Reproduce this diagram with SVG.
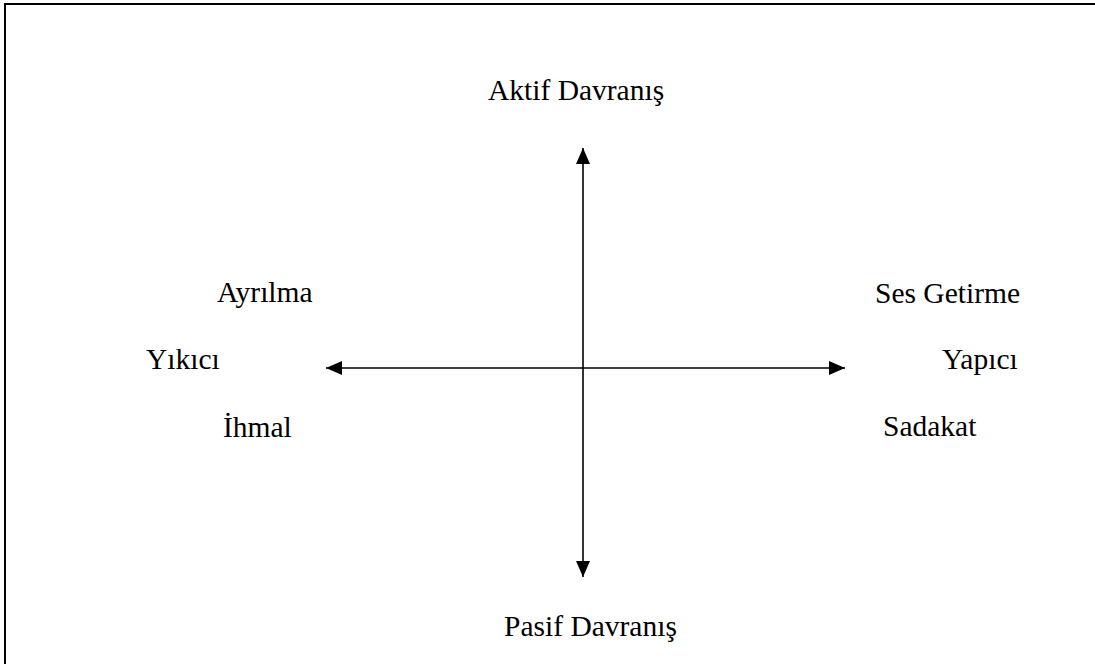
<svg xmlns="http://www.w3.org/2000/svg" width="1095" height="664" viewBox="0 0 1095 664">
  <style>
    .lbl { font-family: 'Liberation Serif', 'Times New Roman', Times, serif; font-size: 29.5px; fill: #000; }
    .axis { stroke: #000; stroke-width: 1.6; fill: none; }
  </style>
  <defs>
    <marker id="head" viewBox="0 0 16 14" refX="16" refY="7" markerWidth="16" markerHeight="14" markerUnits="userSpaceOnUse" orient="auto-start-reverse">
      <path d="M0,0 L16,7 L0,14 Z" fill="#000"/>
    </marker>
  </defs>
  <rect width="1095" height="664" fill="#fff"/>
  <!-- frame: only top and left edges fall inside the canvas -->
  <path d="M5,700 L5,4 L1100,4" stroke="#000" stroke-width="2" fill="none"/>

  <g id="connectors">
    <line class="axis" x1="583" y1="577" x2="583" y2="148" marker-start="url(#head)" marker-end="url(#head)"/>
    <line class="axis" x1="326" y1="368" x2="845" y2="368" marker-start="url(#head)" marker-end="url(#head)"/>
  </g>

  <g id="aktif"><text class="lbl" x="488" y="100">Aktif Davranış</text></g>
  <g id="pasif"><text class="lbl" x="504" y="636">Pasif Davranış</text></g>
  <g id="ayrilma"><text class="lbl" x="217" y="302">Ayrılma</text></g>
  <g id="yikici"><text class="lbl" x="146" y="369">Yıkıcı</text></g>
  <g id="ihmal"><text class="lbl" x="223" y="437">İhmal</text></g>
  <g id="ses-getirme"><text class="lbl" x="875" y="303">Ses Getirme</text></g>
  <g id="yapici"><text class="lbl" x="942" y="369">Yapıcı</text></g>
  <g id="sadakat"><text class="lbl" x="883" y="436">Sadakat</text></g>
</svg>
